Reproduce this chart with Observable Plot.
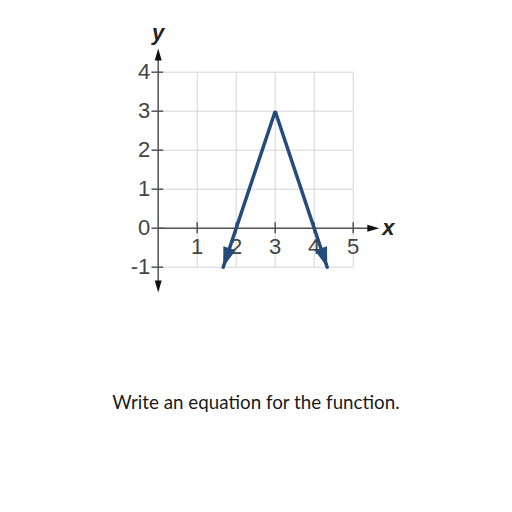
<!DOCTYPE html>
<html><head><meta charset="utf-8">
<script src="https://cdn.jsdelivr.net/npm/d3@7"></script>
<script src="https://cdn.jsdelivr.net/npm/@observablehq/plot@0.6"></script>
<style>
body{margin:0;background:#fff;}
#chart svg{display:block;}
#caption{font-family:Lato,"Open Sans",sans-serif;font-size:18.8px;color:#1a1a1a;text-align:center;width:512px;margin-top:10px;}
</style></head><body>
<div id="chart"></div>
<div id="caption">Write an equation for the function.</div>
<script>
// data
const xTickValues = [1, 2, 3, 4, 5];
const yTickValues = [-1, 0, 1, 2, 3, 4];
const gridXValues = [0, 1, 2, 3, 4, 5];
const gridYValues = [-1, 0, 1, 2, 3, 4];
const funcX = [5/3, 3, 13/3];
const funcY = [-1, 3, -1];
const xAxisRange = [0, 5.67];
const yAxisRange = [-1.65, 4.61];

const pts = funcX.map((x, i) => ({x, y: funcY[i]}));

const lineColor = "#234b7c";
const axisColor = "#555";
const gridColor = "#d6d6d6";
const pxPerUnit = 39;

function arrowSymbol(len, half, angleDeg) {
  const a = angleDeg * Math.PI / 180, c = Math.cos(a), s = Math.sin(a);
  const rot = (x, y) => [x * c - y * s, x * s + y * c];
  const p = [rot(0, 0), rot(half, len), rot(-half, len)];
  return {draw(ctx) { ctx.moveTo(...p[0]); ctx.lineTo(...p[1]); ctx.lineTo(...p[2]); ctx.closePath(); }};
}
function dirAngle(from, to) {
  const dx = (to.x - from.x) * pxPerUnit, dy = -(to.y - from.y) * pxPerUnit;
  return Math.atan2(dx, -dy) * 180 / Math.PI;
}
const leftAngle = dirAngle(pts[1], pts[0]);
const rightAngle = dirAngle(pts[1], pts[2]);

const fmt = d => d < 0 ? "-" + Math.abs(d) : String(d);

const chart = Plot.plot({
  width: 512,
  height: 380,
  marginLeft: 157.7,
  marginRight: 159.3,
  marginTop: 71.7,
  marginBottom: 113.3,
  x: {domain: [0, 5], axis: null},
  y: {domain: [-1, 4], axis: null},
  style: {fontFamily: "'Liberation Sans', Arial, sans-serif", background: "#fff"},
  marks: [
    Plot.ruleX(gridXValues, {x: d => d, y1: -1, y2: 4, stroke: gridColor, strokeWidth: 1}),
    Plot.ruleY(gridYValues, {y: d => d, x1: 0, x2: 5, stroke: gridColor, strokeWidth: 1}),
    Plot.ruleX([0], {y1: yAxisRange[0] + 0.2, y2: yAxisRange[1] - 0.2, stroke: axisColor, strokeWidth: 1.5}),
    Plot.ruleY([0], {x1: xAxisRange[0], x2: xAxisRange[1] - 0.2, stroke: axisColor, strokeWidth: 1.5}),
    Plot.dot([{x: 0, y: yAxisRange[1]}], {x: "x", y: "y", symbol: arrowSymbol(12, 3.5, 0), fill: "#111", stroke: "none"}),
    Plot.dot([{x: 0, y: yAxisRange[0]}], {x: "x", y: "y", symbol: arrowSymbol(12, 3.5, 180), fill: "#111", stroke: "none"}),
    Plot.dot([{x: xAxisRange[1], y: 0}], {x: "x", y: "y", symbol: arrowSymbol(12, 3.5, 90), fill: "#111", stroke: "none"}),
    Plot.ruleY(yTickValues, {y: d => d, x1: -0.16, x2: 0.14, stroke: axisColor, strokeWidth: 1.5}),
    Plot.ruleX(xTickValues, {x: d => d, y1: -0.14, y2: 0.14, stroke: axisColor, strokeWidth: 1.5}),
    Plot.text(yTickValues, {x: 0, y: d => d, text: d => fmt(d), textAnchor: "end", dx: -8, fontSize: 22, fill: "#444"}),
    Plot.text(xTickValues, {x: d => d, y: 0, text: d => fmt(d), dy: 19, fontSize: 22, fill: "#444"}),
    Plot.text(["y"], {x: 0, y: yAxisRange[1], text: d => d, dy: -15, fontSize: 22, fontStyle: "italic", fontWeight: "bold", fill: "#222"}),
    Plot.text(["x"], {x: xAxisRange[1], y: 0, text: d => d, dx: 9, fontSize: 22, fontStyle: "italic", fontWeight: "bold", fill: "#222"}),
    Plot.line(pts, {x: "x", y: "y", stroke: lineColor, strokeWidth: 3.5, strokeLinejoin: "miter"}),
    Plot.dot([pts[0]], {x: "x", y: "y", symbol: arrowSymbol(20, 6.5, leftAngle), fill: lineColor, stroke: "none"}),
    Plot.dot([pts[2]], {x: "x", y: "y", symbol: arrowSymbol(20, 6.5, rightAngle), fill: lineColor, stroke: "none"})
  ]
});
document.getElementById("chart").appendChild(chart);
</script>
</body></html>
